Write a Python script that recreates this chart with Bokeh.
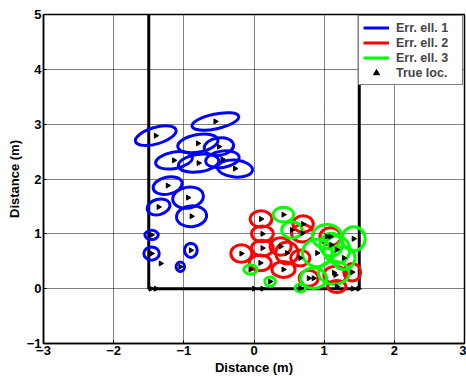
from bokeh.plotting import figure
from bokeh.models import Range1d, Legend, LegendItem, FixedTicker
from bokeh.embed import file_html
from bokeh.resources import INLINE

# Blue error ellipses (Err. ell. 1): centre, width, height (m), tilt (deg)
blue_x = [-0.55, -1.40, -0.80, -0.50, -1.14, -0.79, -0.45, -0.27, -1.23, -0.94, -1.36, -0.89, -1.46, -1.46, -0.90, -1.05]
blue_y = [3.05, 2.79, 2.65, 2.59, 2.34, 2.29, 2.36, 2.19, 1.88, 1.66, 1.49, 1.32, 0.98, 0.64, 0.70, 0.40]
blue_w = [0.68, 0.60, 0.58, 0.42, 0.53, 0.58, 0.48, 0.50, 0.42, 0.44, 0.33, 0.43, 0.19, 0.22, 0.18, 0.12]
blue_h = [0.27, 0.30, 0.32, 0.32, 0.30, 0.32, 0.30, 0.31, 0.31, 0.38, 0.28, 0.38, 0.17, 0.24, 0.26, 0.17]
blue_a = [12, 16, 10, 8, 10, 8, 8, -5, 12, 10, 15, 5, 0, 0, 0, 0]

# Red error ellipses (Err. ell. 2)
red_x = [0.10, 0.70, 0.69, 0.12, 0.12, -0.18, 0.38, 0.47, 0.09, 0.42, 0.78, 1.16, 1.18, 1.09, 0.66, 1.40]
red_y = [1.27, 1.18, 1.01, 1.00, 0.74, 0.64, 0.77, 0.65, 0.47, 0.35, 0.19, 0.25, 0.04, 0.95, 0.56, 0.30]
red_w = [0.31, 0.29, 0.31, 0.31, 0.31, 0.30, 0.30, 0.32, 0.31, 0.33, 0.27, 0.33, 0.26, 0.30, 0.27, 0.24]
red_h = [0.30, 0.30, 0.32, 0.29, 0.29, 0.32, 0.32, 0.40, 0.29, 0.29, 0.29, 0.32, 0.22, 0.32, 0.29, 0.32]

# Green error ellipses (Err. ell. 3)
green_x = [0.42, 0.54, 1.42, 1.04, 0.90, 1.18, 1.14, 0.85, -0.05, 0.23, 0.66, 1.28, 1.10]
green_y = [1.35, 1.07, 0.91, 0.95, 0.65, 0.71, 0.29, 0.19, 0.35, 0.13, 0.01, 0.56, 0.80]
green_w = [0.29, 0.29, 0.33, 0.42, 0.42, 0.37, 0.44, 0.37, 0.19, 0.15, 0.15, 0.32, 0.32]
green_h = [0.27, 0.30, 0.44, 0.44, 0.50, 0.50, 0.42, 0.37, 0.17, 0.17, 0.14, 0.42, 0.42]

# True locations
true_x = blue_x + red_x + green_x + [-1.33]
true_y = blue_y + red_y + green_y + [0.46]

# Room walls and anchor nodes
room_x = [-1.5, -1.5, 1.5, 1.5]
room_y = [5.0, 0.0, 0.0, 5.0]
anchor_x = [-1.47, -1.40, 0.0, 0.12, 1.41, 1.49]
anchor_y = [0, 0, 0, 0, 0, 0]

x_ticks = [-3, -2, -1, 0, 1, 2, 3]
y_ticks = [-1, 0, 1, 2, 3, 4, 5]

FONT = "Liberation Sans"

p = figure(width=466, height=377, x_range=Range1d(-3, 3), y_range=Range1d(-1, 5),
           output_backend="svg", toolbar_location=None,
           min_border_left=43, min_border_right=2, min_border_top=14, min_border_bottom=34)

p.background_fill_color = "white"
p.border_fill_color = "white"
p.outline_line_color = "black"
p.outline_line_width = 1.5

p.xaxis.ticker = FixedTicker(ticks=x_ticks)
p.yaxis.ticker = FixedTicker(ticks=y_ticks)
p.xaxis.axis_label = "Distance (m)"
p.yaxis.axis_label = "Distance (m)"
for ax in [p.xaxis, p.yaxis]:
    ax.axis_label_text_font = FONT
    ax.axis_label_text_font_style = "bold"
    ax.axis_label_text_font_size = "13px"
    ax.major_label_text_font = FONT
    ax.major_label_text_font_style = "bold"
    ax.major_label_text_font_size = "13px"
    ax.major_label_text_color = "black"
    ax.axis_label_text_color = "black"
    ax.axis_line_color = "black"
    ax.axis_line_width = 1.5
    ax.major_tick_line_color = "black"
    ax.major_tick_in = 3
    ax.major_tick_out = 0
    ax.minor_tick_line_color = None
    ax.major_label_standoff = 2
    ax.axis_label_standoff = 2

p.grid.grid_line_color = "black"
p.grid.grid_line_dash = "1 1"
p.grid.grid_line_alpha = 1.0
p.grid.grid_line_width = 1

# Walls
p.line(room_x, room_y, line_color="black", line_width=3)
p.scatter(anchor_x, anchor_y, marker="triangle", size=5, color="black", angle=-90, angle_units="deg")

p.ellipse(x=blue_x, y=blue_y, width=blue_w, height=blue_h, angle=blue_a, angle_units="deg",
          fill_color=None, line_color="#0000ff", line_width=3)
p.ellipse(x=red_x, y=red_y, width=red_w, height=red_h,
          fill_color=None, line_color="#ff0000", line_width=3)
p.ellipse(x=green_x, y=green_y, width=green_w, height=green_h,
          fill_color=None, line_color="#00ff00", line_width=3)
tl = p.scatter(true_x, true_y, marker="triangle", size=5, color="black", angle=-90, angle_units="deg")

# legend proxies placed outside the visible range
l1 = p.line(x=[-10, -9], y=[-10, -10], line_color="#0000ff", line_width=3)
l2 = p.line(x=[-10, -9], y=[-10, -10], line_color="#ff0000", line_width=3)
l3 = p.line(x=[-10, -9], y=[-10, -10], line_color="#00ff00", line_width=3)

legend = Legend(items=[LegendItem(label="Err. ell. 1", renderers=[l1]),
                       LegendItem(label="Err. ell. 2", renderers=[l2]),
                       LegendItem(label="Err. ell. 3", renderers=[l3]),
                       LegendItem(label="True loc.", renderers=[tl])],
                location="top_right")
legend.label_text_font = FONT
legend.label_text_font_style = "bold"
legend.label_text_font_size = "12.5px"
legend.border_line_color = "black"
legend.border_line_width = 1.5
legend.background_fill_color = "white"
legend.background_fill_alpha = 1.0
legend.margin = 1
legend.padding = 4
legend.spacing = 0
legend.label_height = 15
legend.glyph_height = 15
legend.glyph_width = 26
legend.label_standoff = 7
legend.label_width = 62
p.add_layout(legend)

open("out.html", "w").write(file_html(p, INLINE))
